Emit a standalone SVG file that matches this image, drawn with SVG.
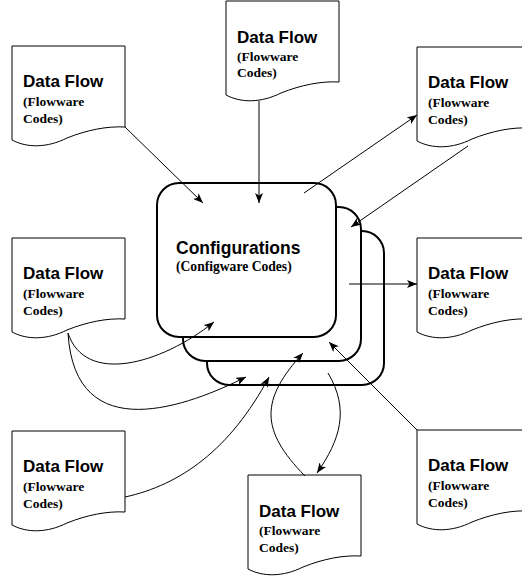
<svg xmlns="http://www.w3.org/2000/svg" width="522" height="578" viewBox="0 0 522 578">
<style>
.doc{fill:#fff;stroke:#000;stroke-width:1}
.box{fill:#fff;stroke:#000;stroke-width:2}
.t1{font-family:"Liberation Sans",Arial,sans-serif;font-weight:bold;font-size:17px;fill:#000}
.t2{font-family:"Liberation Serif","Times New Roman",serif;font-weight:bold;font-size:13.5px;fill:#000}
.ct1{font-family:"Liberation Sans",Arial,sans-serif;font-weight:bold;font-size:17.5px;fill:#000}
.ct2{font-family:"Liberation Serif","Times New Roman",serif;font-weight:bold;font-size:13.6px;fill:#000}
.c{fill:none;stroke:#000;stroke-width:1;marker-end:url(#ah)}
</style>
<defs>
<marker id="ah" viewBox="0 0 10 8" refX="10" refY="4" markerWidth="10" markerHeight="8" orient="auto" markerUnits="userSpaceOnUse"><path d="M0,0 L10,4 L0,8 L2.5,4 Z" fill="#000"/></marker>
<path id="docshape" d="M0,0 H113 V81 C95,80 75,84 55,92 C35,102 15,102 0,94 Z"/>
</defs>
<rect width="522" height="578" fill="#fff"/>

<g id="config">
<rect class="box" x="207" y="231" width="177" height="154" rx="22"/>
<rect class="box" x="183" y="207" width="178" height="154" rx="22"/>
<rect class="box" x="157" y="183" width="179" height="154" rx="22"/>
<text class="ct1" x="176" y="254">Configurations</text>
<text class="ct2" x="176" y="271">(Configware Codes)</text>
</g>

<g id="doc1" transform="translate(12,46)">
<use href="#docshape" class="doc"/>
<text class="t1" x="11" y="41">Data Flow</text>
<text class="t2" x="11" y="60">(Flowware</text>
<text class="t2" x="11" y="77">Codes)</text>
</g>
<g id="doc2" transform="translate(226,1)">
<use href="#docshape" class="doc"/>
<text class="t1" x="11" y="42">Data Flow</text>
<text class="t2" x="11" y="60">(Flowware</text>
<text class="t2" x="11" y="76">Codes)</text>
</g>
<g id="doc3" transform="translate(417,47)">
<use href="#docshape" class="doc"/>
<text class="t1" x="11" y="41">Data Flow</text>
<text class="t2" x="11" y="60">(Flowware</text>
<text class="t2" x="11" y="77">Codes)</text>
</g>
<g id="doc4" transform="translate(12,238)">
<use href="#docshape" class="doc"/>
<text class="t1" x="11" y="41">Data Flow</text>
<text class="t2" x="11" y="60">(Flowware</text>
<text class="t2" x="11" y="77">Codes)</text>
</g>
<g id="doc5" transform="translate(417,238)">
<use href="#docshape" class="doc"/>
<text class="t1" x="11" y="41">Data Flow</text>
<text class="t2" x="11" y="60">(Flowware</text>
<text class="t2" x="11" y="77">Codes)</text>
</g>
<g id="doc6" transform="translate(12,431)">
<use href="#docshape" class="doc"/>
<text class="t1" x="11" y="41">Data Flow</text>
<text class="t2" x="11" y="60">(Flowware</text>
<text class="t2" x="11" y="77">Codes)</text>
</g>
<g id="doc7" transform="translate(248,475)">
<use href="#docshape" class="doc"/>
<text class="t1" x="11" y="42">Data Flow</text>
<text class="t2" x="11" y="60">(Flowware</text>
<text class="t2" x="11" y="77">Codes)</text>
</g>
<g id="doc8" transform="translate(417,430)">
<use href="#docshape" class="doc"/>
<text class="t1" x="11" y="41">Data Flow</text>
<text class="t2" x="11" y="60">(Flowware</text>
<text class="t2" x="11" y="77">Codes)</text>
</g>

<g id="connectors">
<path class="c" d="M125,127 L203,203"/>
<path class="c" d="M259,101 L259,203"/>
<path class="c" d="M304,193 L417,115"/>
<path class="c" d="M468,146 L351,227"/>
<path class="c" d="M349,284 L417,284"/>
<path class="c" d="M68,333 C85,385 160,365 214,322"/>
<path class="c" d="M68,333 C75,450 190,405 246,377"/>
<path class="c" d="M125,497 C180,485 230,450 269,377"/>
<path class="c" d="M305,476 C260,430 260,400 303,353"/>
<path class="c" d="M328,373 C350,410 340,440 317,473"/>
<path class="c" d="M417,430 L329,342"/>
</g>
</svg>
